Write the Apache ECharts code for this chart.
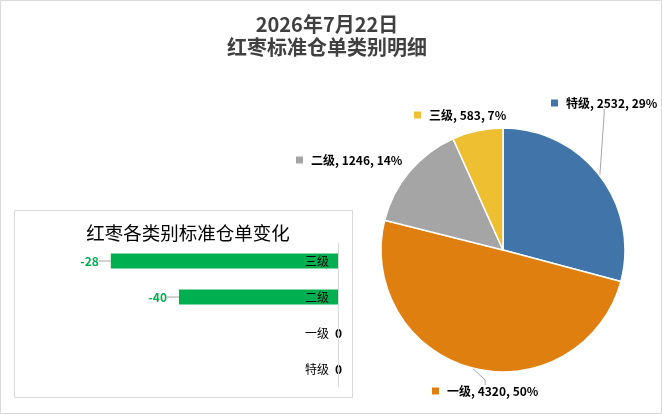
<!DOCTYPE html>
<html>
<head>
<meta charset="utf-8">
<script src="https://cdn.jsdelivr.net/npm/echarts@6/dist/echarts.min.js"></script>
<style>
  html, body { margin: 0; padding: 0; background: #fff; }
  #main { width: 662px; height: 414px; }
</style>
</head>
<body>
<div id="main"></div>
<script>
// 数据
var pieNames = ['特级', '一级', '二级', '三级'];
var pieValues = [2532, 4320, 1246, 583];
var pieColors = ['#4174a8', '#df7f10', '#a5a5a5', '#eec031'];

// 条形图 (下到上)
var barCats = ['特级', '一级', '二级', '三级'];
// 条长按图上读取, 标签按图上文字
var barValues = [0, 0, -28, -40];
var barLabels = ['0', '0', '-40', '-28'];

var chart = echarts.init(document.getElementById('main'));
var font = '"Noto Sans CJK SC", "Microsoft YaHei", sans-serif';

// 饼图标签位置
var pieLabelPos = [[551, 103], [432, 391], [296, 160], [414, 115]];

var rich = { t: { fontSize: 12, fontWeight: 'bold', color: '#000', fontFamily: font } };
pieColors.forEach(function (c, i) {
    rich['s' + i] = { width: 7, height: 7, backgroundColor: c };
});

var pieData = pieNames.map(function (n, i) {
    return {
        name: n,
        value: pieValues[i],
        itemStyle: { color: pieColors[i] },
        labelLine: { show: i < 2 }
    };
});

var barData = barValues.map(function (v, i) {
    if (v < 0) {
        return {
            value: v,
            label: { position: 'left', distance: 5, color: '#00b050' },
            labelLine: { show: true }
        };
    }
    return {
        value: v,
        label: { position: 'right', distance: -3, color: '#000' }
    };
});

var option = {
    backgroundColor: '#fff',
    animation: false,
    textStyle: { fontFamily: font },
    title: [{
        text: '2026年7月22日\n红枣标准仓单类别明细',
        left: 322,
        top: 8,
        textAlign: 'center',
        textStyle: { fontSize: 20, fontWeight: 'bold', color: '#404040', lineHeight: 23, fontFamily: font }
    }, {
        text: '红枣各类别标准仓单变化',
        left: 183,
        top: 219,
        textAlign: 'center',
        textStyle: { fontSize: 18.5, fontWeight: 'normal', color: '#000', fontFamily: font }
    }],
    graphic: [{
        type: 'rect',
        z: -10,
        shape: { x: 0.5, y: 0.5, width: 661, height: 413 },
        style: { fill: 'none', stroke: '#d9d9d9', lineWidth: 1 }
    }, {
        type: 'rect',
        z: -10,
        shape: { x: 14.5, y: 210.5, width: 338, height: 187 },
        style: { fill: '#fff', stroke: '#d9d9d9', lineWidth: 1 }
    }],
    grid: { left: 54, right: 324, top: 243, bottom: 27 },
    xAxis: { type: 'value', min: -50, max: 0, show: false },
    yAxis: {
        type: 'category',
        data: barCats,
        position: 'right',
        z: 5,
        axisLine: { show: true, lineStyle: { color: '#d9d9d9' } },
        axisTick: { show: false },
        axisLabel: { inside: true, margin: 9, color: '#000', fontSize: 12, fontFamily: font }
    },
    series: [{
        type: 'bar',
        data: barData,
        barWidth: 15,
        itemStyle: { color: '#00b050' },
        label: {
            show: true,
            fontSize: 12,
            fontWeight: 'bold',
            formatter: function (p) { return barLabels[p.dataIndex]; }
        },
        labelLayout: function (p) {
            return barValues[p.dataIndex] < 0 ? { dx: -7 } : {};
        },
        labelLine: { lineStyle: { color: '#a6a6a6', width: 1 } }
    }, {
        type: 'pie',
        center: [503, 250],
        radius: 122,
        startAngle: 90,
        clockwise: true,
        data: pieData,
        itemStyle: { borderColor: '#fff', borderWidth: 1.5 },
        label: {
            show: true,
            position: 'outside',
            overflow: 'none',
            formatter: function (p) {
                return '{s' + p.dataIndex + '| }   {t|' + p.name + ', ' + p.value + ', ' + Math.round(p.percent) + '%}';
            },
            rich: rich
        },
        labelLine: { lineStyle: { color: '#a6a6a6', width: 1 }, length: 10, length2: 5 },
        labelLayout: function (p) {
            var pos = pieLabelPos[p.dataIndex];
            return { x: pos[0], y: pos[1], align: 'left', verticalAlign: 'middle' };
        }
    }]
};

chart.setOption(option);
</script>
</body>
</html>
